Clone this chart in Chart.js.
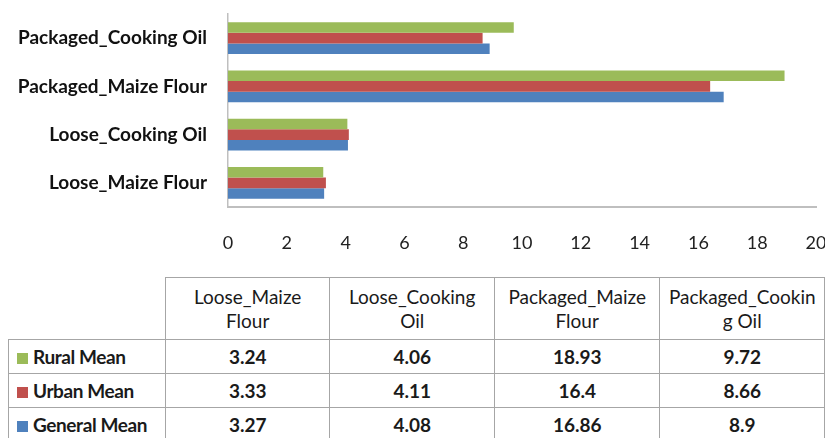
<!DOCTYPE html>
<html>
<head>
<meta charset="utf-8">
<script src="https://cdn.jsdelivr.net/npm/chart.js@4.4.1/dist/chart.umd.min.js"></script>
<style>
  html, body { margin: 0; padding: 0; background: #fff; }
  body { width: 825px; height: 438px; position: relative; overflow: hidden; font-family: Lato, "Open Sans", sans-serif; }
  #wrap { position: absolute; left: 0; top: 0; width: 825px; height: 262px; }
  #datatable { position: absolute; left: 8px; top: 277px; border-collapse: collapse; table-layout: fixed; color: #1a1a1a; }
  #datatable td { border: 1px solid #a6a6a6; text-align: center; font-size: 19px; padding: 0; }
  #datatable tr.head td { height: 61px; line-height: 24px; overflow-wrap: anywhere; padding: 0 12px; }
  #datatable tr.head td:last-child { padding: 0 5px; }
  #datatable tr.head td.blank { border: none; border-bottom: 1px solid #a6a6a6; }
  #datatable tr.row td { height: 33px; font-weight: bold; }
  #datatable td.name { text-align: left; padding-left: 8px; font-weight: bold; white-space: nowrap; letter-spacing: -0.4px; }
  .key { display: inline-block; width: 11px; height: 11px; margin-right: 5px; }
</style>
</head>
<body>
<div id="wrap"><canvas id="chart"></canvas></div>
<table id="datatable"></table>
<script>
// food item categories and the three mean series
const categories = ["Loose_Maize Flour", "Loose_Cooking Oil", "Packaged_Maize Flour", "Packaged_Cooking Oil"];
const seriesNames = ["Rural Mean", "Urban Mean", "General Mean"];
const ruralMean = [3.24, 4.06, 18.93, 9.72];
const urbanMean = [3.33, 4.11, 16.4, 8.66];
const generalMean = [3.27, 4.08, 16.86, 8.9];
const xTicks = [0, 2, 4, 6, 8, 10, 12, 14, 16, 18, 20];

const colors = ["#9bbb59", "#c0504d", "#4f81bd"];
const values = [ruralMean, urbanMean, generalMean];
const colWidths = [157, 165, 165, 166, 165];

var ctx = document.getElementById("chart").getContext("2d");
var myChart = new Chart(ctx, {
  type: "bar",
  data: {
    labels: categories,
    datasets: seriesNames.map(function (name, i) {
      return {
        label: name,
        data: values[i],
        backgroundColor: colors[i],
        borderWidth: 0,
        categoryPercentage: 0.66,
        barPercentage: 1.0,
      };
    }),
  },
  options: {
    indexAxis: "y",
    responsive: true,
    maintainAspectRatio: false,
    animation: false,
    layout: { padding: { top: 14, right: 9, left: 0, bottom: 0 } },
    plugins: { legend: { display: false }, tooltip: { enabled: false } },
    scales: {
      y: {
        reverse: true,
        grid: { display: false, drawTicks: false },
        border: { display: true, color: "#bfbfbf", width: 1.5 },
        ticks: {
          color: "#111",
          padding: 21,
          font: { family: "Lato", size: 19, weight: "bold" },
        },
        afterFit: function (scale) {
          scale.width = 228;
          scale.paddingTop = 0;
          scale.paddingBottom = 0;
        },
      },
      x: {
        min: 0,
        max: 20,
        afterBuildTicks: function (scale) {
          scale.ticks = xTicks.map(function (v) { return { value: v }; });
        },
        grid: { display: false, drawTicks: false },
        border: { display: true, color: "#bfbfbf", width: 2 },
        ticks: {
          color: "#222",
          padding: 25,
          font: { family: "Lato", size: 18 },
        },
        afterFit: function (scale) {
          scale.height = 55;
          scale.paddingLeft = 0;
          scale.paddingRight = 0;
        },
      },
    },
  },
});

// data table under the chart
var table = document.getElementById("datatable");
var head = "<colgroup>";
colWidths.forEach(function (w) { head += "<col style='width:" + w + "px'>"; });
head += "</colgroup><tr class='head'><td class='blank'></td>";
categories.forEach(function (c) { head += "<td>" + c + "</td>"; });
head += "</tr>";
var rows = "";
seriesNames.forEach(function (name, i) {
  rows += "<tr class='row'><td class='name'><span class='key' style='background:" + colors[i] + "'></span>" + name + "</td>";
  values[i].forEach(function (v) { rows += "<td>" + v + "</td>"; });
  rows += "</tr>";
});
table.innerHTML = head + rows;
</script>
</body>
</html>
